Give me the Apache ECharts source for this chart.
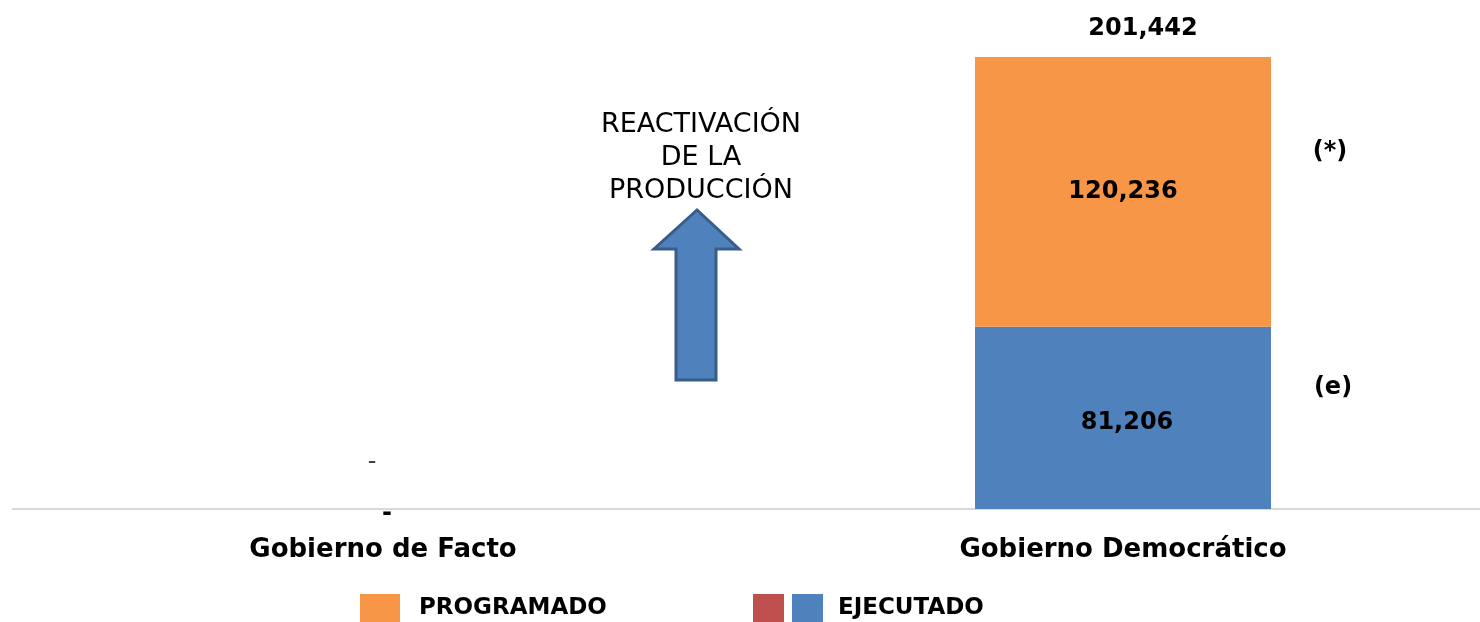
<!DOCTYPE html>
<html>
<head>
<meta charset="utf-8">
<script src="https://cdn.jsdelivr.net/npm/echarts@6/dist/echarts.min.js"></script>
<style>
  html, body { margin: 0; padding: 0; background: #fff; }
  #chart { width: 1480px; height: 622px; }
</style>
</head>
<body>
<div id="chart"></div>
<script>
(function() {
    'use strict';

    var categories = ['Gobierno de Facto', 'Gobierno Democrático'];
    var ejecutado = [0, 81206];
    var programado = [0, 120236];
    var totals = categories.map(function(c, i) { return ejecutado[i] + programado[i]; });

    var FONT = 'DejaVu Sans';

    function fmt(v) {
        return v === 0 ? '-' : v.toLocaleString('en-US');
    }

    var myChart = echarts.init(document.getElementById('chart'));

    var option = {
        animation: false,
        textStyle: { fontFamily: FONT },
        grid: { left: 13, width: 1480, top: 57, bottom: 113, outerBoundsMode: 'none', containLabel: false },
        legend: [
            {
                data: ['PROGRAMADO'],
                left: 360, top: 594, padding: 0,
                itemWidth: 40, itemHeight: 28,
                icon: 'rect',
                textStyle: { fontFamily: FONT, fontWeight: 'bold', fontSize: 23, color: '#000', padding: [0, 0, 0, 14] }
            },
            {
                data: [' '],
                left: 753, top: 594, padding: 0,
                itemWidth: 31, itemHeight: 28,
                icon: 'rect',
                textStyle: { fontSize: 1 }
            },
            {
                data: ['EJECUTADO'],
                left: 792, top: 594, padding: 0,
                itemWidth: 31, itemHeight: 28,
                icon: 'rect',
                textStyle: { fontFamily: FONT, fontWeight: 'bold', fontSize: 23, color: '#000', padding: [0, 0, 0, 10] }
            }
        ],
        xAxis: {
            type: 'category',
            data: categories,
            axisLine: { lineStyle: { color: '#D9D9D9', width: 2 } },
            axisTick: { show: false },
            axisLabel: { margin: 28, fontFamily: FONT, fontWeight: 'bold', fontSize: 26, color: '#000' }
        },
        yAxis: {
            type: 'value',
            show: false,
            min: 0,
            max: function(v) { return v.max; },
            splitLine: { show: false }
        },
        series: [
            {
                name: 'EJECUTADO',
                type: 'bar',
                stack: 'a',
                barWidth: '40%',
                itemStyle: { color: '#4F81BD' },
                label: {
                    show: true, position: 'inside',
                    fontFamily: FONT, fontWeight: 'bold', fontSize: 24, color: '#000',
                    formatter: function(p) { return fmt(p.value); }
                },
                data: ejecutado.map(function(v) {
                    return v === 0 ? { value: v, label: { offset: [4, 5] } } : { value: v, label: { offset: [4, 5] } };
                })
            },
            {
                name: 'PROGRAMADO',
                type: 'bar',
                stack: 'a',
                itemStyle: { color: '#F79646' },
                label: {
                    show: true, position: 'inside',
                    fontFamily: FONT, fontWeight: 'bold', fontSize: 24, color: '#000',
                    formatter: function(p) { return p.value === 0 ? '' : fmt(p.value); }
                },
                data: programado
            },
            {
                name: ' ',
                type: 'bar',
                stack: 'a',
                itemStyle: { color: '#C0504D' },
                data: []
            },
            {
                name: 'total',
                type: 'bar',
                stack: 'a',
                itemStyle: { color: 'transparent' },
                label: {
                    show: true, position: 'top', distance: 16, offset: [20, 0],
                    fontFamily: FONT, fontWeight: 'bold', fontSize: 24, color: '#000',
                    formatter: function(p) { return fmt(totals[p.dataIndex]); }
                },
                data: totals.map(function(t) {
                    return t === 0 ? { value: 0, label: { distance: 34, offset: [-11, 0], fontWeight: 'normal', color: '#404040' } } : 0;
                })
            }
        ],
        graphic: [
            {
                type: 'polygon',
                shape: {
                    points: [[697, 210], [654, 249], [676, 249], [676, 380], [716, 380], [716, 249], [739, 249]]
                },
                style: { fill: '#4F81BD', stroke: '#385D8A', lineWidth: 3 }
            },
            {
                type: 'text',
                style: {
                    text: 'REACTIVACIÓN\nDE LA\nPRODUCCIÓN',
                    x: 701, y: 108,
                    textAlign: 'center',
                    font: 'normal 27px "DejaVu Sans"',
                    lineHeight: 33,
                    fill: '#000'
                }
            },
            {
                type: 'text',
                style: { text: '(*)', x: 1330, y: 152, textAlign: 'center', textVerticalAlign: 'middle', font: 'bold 24px "DejaVu Sans"', fill: '#000' }
            },
            {
                type: 'text',
                style: { text: '(e)', x: 1333, y: 388, textAlign: 'center', textVerticalAlign: 'middle', font: 'bold 24px "DejaVu Sans"', fill: '#000' }
            }
        ]
    };

    myChart.setOption(option);
})();
</script>
</body>
</html>
